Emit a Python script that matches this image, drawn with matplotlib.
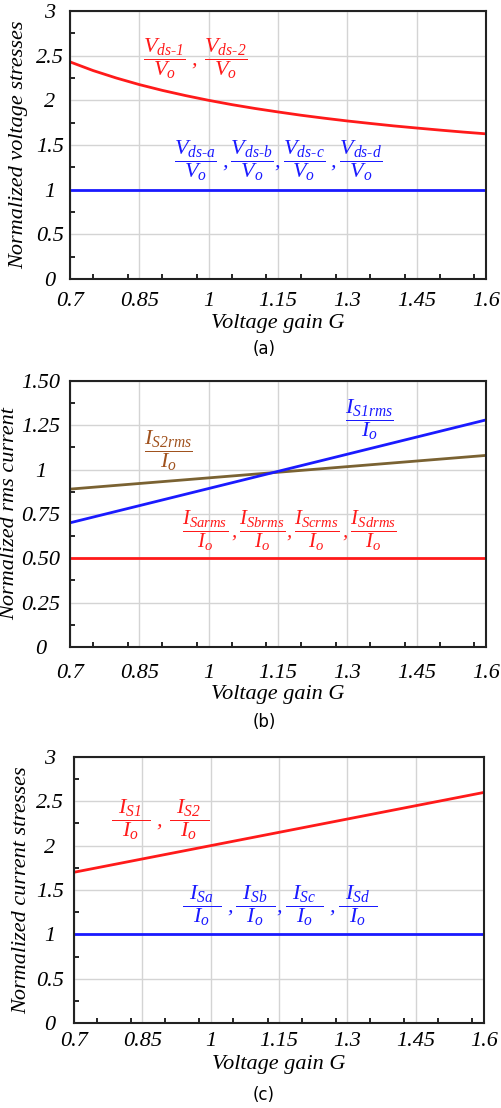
import matplotlib
matplotlib.use("Agg")
import matplotlib.pyplot as plt
from matplotlib.ticker import MultipleLocator

plt.rcParams['font.family'] = ['Liberation Serif', 'DejaVu Serif']
plt.rcParams['font.style'] = 'italic'
plt.rcParams['mathtext.fontset'] = 'custom'
plt.rcParams['mathtext.rm'] = 'Liberation Serif:italic'
plt.rcParams['mathtext.it'] = 'Liberation Serif:italic'

# ---- data ----
gain = [0.7, 0.75, 0.8, 0.85, 0.9, 0.95, 1.0, 1.05, 1.1, 1.15,
        1.2, 1.25, 1.3, 1.35, 1.4, 1.45, 1.5, 1.55, 1.6]

# (a) normalized voltage stresses
vds_12 = [2.43, 2.333, 2.25, 2.176, 2.111, 2.053, 2.0, 1.952, 1.909, 1.87,
          1.833, 1.80, 1.769, 1.741, 1.714, 1.69, 1.667, 1.645, 1.625]
vds_abcd = [1.0] * len(gain)

# (b) normalized rms current
g_lin = [0.7, 1.6]
is1_rms = [0.70, 1.28]
is2_rms = [0.89, 1.08]
isx_rms = [0.50, 0.50]

# (c) normalized current stresses
is_12 = [1.70, 2.60]
is_abcd = [1.0, 1.0]

xticks = [0.7, 0.85, 1.0, 1.15, 1.3, 1.45, 1.6]
xticklabels = ['0.7', '0.85', '1', '1.15', '1.3', '1.45', '1.6']

RED = '#ff1a1a'
BLUE = '#1a1aff'
BROWN_LINE = '#7a6232'
BROWN_TXT = '#a0521e'

fig = plt.figure(figsize=(5.01, 11.08), dpi=100)
ax_a = fig.add_axes([0.1397, 0.7482, 0.830, 0.2419])
ax_b = fig.add_axes([0.1397, 0.4161, 0.830, 0.2401])
ax_c = fig.add_axes([0.1477, 0.0767, 0.818, 0.2401])


def style(ax, ymax, ystep, ylabels, ylabel, ypad, ylab_x, xpad, xlab_y):
    ax.set_xlim(0.7, 1.6)
    ax.set_ylim(0, ymax)
    ax.set_xticks(xticks)
    ax.set_xticklabels(xticklabels)
    yt = [i * ystep for i in range(len(ylabels))]
    ax.set_yticks(yt)
    ax.set_yticklabels(ylabels, ha='center')
    ax.xaxis.set_minor_locator(MultipleLocator(0.075))
    ax.yaxis.set_minor_locator(MultipleLocator(ystep / 2))
    ax.tick_params(which='major', length=0, labelsize=16)
    ax.tick_params(axis='x', which='major', pad=xpad)
    ax.tick_params(axis='y', which='major', pad=ypad)
    ax.tick_params(which='minor', length=3.5, width=1.2, direction='in')
    ax.grid(True, which='major', color='#d4d4d4', linewidth=1)
    for s in ax.spines.values():
        s.set_linewidth(1.5)
        s.set_color('#222222')
    ax.set_xlabel('Voltage gain G', fontsize=16)
    ax.xaxis.set_label_coords(0.5, xlab_y)
    ax.set_ylabel(ylabel, fontsize=16)
    ax.yaxis.set_label_coords(ylab_x, 0.5)


# (a)
ax_a.plot(gain, vds_12, color=RED, lw=2)
ax_a.plot(gain, vds_abcd, color=BLUE, lw=2)
style(ax_a, 3, 0.5, ['0', '0.5', '1', '1.5', '2', '2.5', '3'],
      'Normalized voltage stresses', 14.4, -0.10, 9.1, -0.131)
ax_a.text(0.97, 2.47, r'$\dfrac{V_{ds\text{-}\mathit{1}}}{V_o}\;,\;\dfrac{V_{ds\text{-}\mathit{2}}}{V_o}$',
          color=RED, fontsize=16, ha='center', va='center')
ax_a.text(1.15, 1.33, r'$\dfrac{V_{ds\text{-}a}}{V_o}\;,\dfrac{V_{ds\text{-}b}}{V_o},\dfrac{V_{ds\text{-}c}}{V_o}\;,\dfrac{V_{ds\text{-}d}}{V_o}$',
          color=BLUE, fontsize=16, ha='center', va='center')

# (b)
ax_b.plot(g_lin, is2_rms, color=BROWN_LINE, lw=2)
ax_b.plot(g_lin, is1_rms, color=BLUE, lw=2)
ax_b.plot(g_lin, isx_rms, color=RED, lw=2)
style(ax_b, 1.5, 0.25, ['0', '0.25', '0.50', '0.75', '1', '1.25', '1.50'],
      'Normalized rms current', 20.9, -0.123, 12.0, -0.142)
ax_b.text(1.349, 1.281, r'$\dfrac{I_{S\mathit{1}rms}}{I_o}$', color=BLUE, fontsize=16, ha='center', va='center')
ax_b.text(0.914, 1.107, r'$\dfrac{I_{S\mathit{2}rms}}{I_o}$', color=BROWN_TXT, fontsize=16, ha='center', va='center')
ax_b.text(1.174, 0.657, r'$\dfrac{I_{Sarms}}{I_o}\,,\dfrac{I_{Sbrms}}{I_o},\dfrac{I_{Scrms}}{I_o}\,,\dfrac{I_{Sdrms}}{I_o}$',
          color=RED, fontsize=15, ha='center', va='center')

# (c)
ax_c.plot(g_lin, is_12, color=RED, lw=2)
ax_c.plot(g_lin, is_abcd, color=BLUE, lw=2)
style(ax_c, 3, 0.5, ['0', '0.5', '1', '1.5', '2', '2.5', '3'],
      'Normalized current stresses', 17.3, -0.105, 6.3, -0.120)
ax_c.text(0.889, 2.29, r'$\dfrac{\;\,I_{S\mathit{1}}\;\,}{I_o}\;,\;\dfrac{\;\,I_{S\mathit{2}}\;\,}{I_o}$',
          color=RED, fontsize=16, ha='center', va='center')
ax_c.text(1.152, 1.32, r'$\dfrac{\;\,I_{Sa}\;\,}{I_o}\;,\dfrac{\;\,I_{Sb}\;\,}{I_o},\dfrac{\;\,I_{Sc}\;\,}{I_o}\;,\dfrac{\;\,I_{Sd}\;\,}{I_o}$',
          color=BLUE, fontsize=16, ha='center', va='center')

# panel captions
for y, lab in [(1108 - 349, '(a)'), (1108 - 722, '(b)'), (1108 - 1095, '(c)')]:
    fig.text(0.527, y / 1108, lab, fontsize=12, family='DejaVu Sans', style='normal',
             ha='center', va='center')

fig.savefig('out.png', dpi=100)
